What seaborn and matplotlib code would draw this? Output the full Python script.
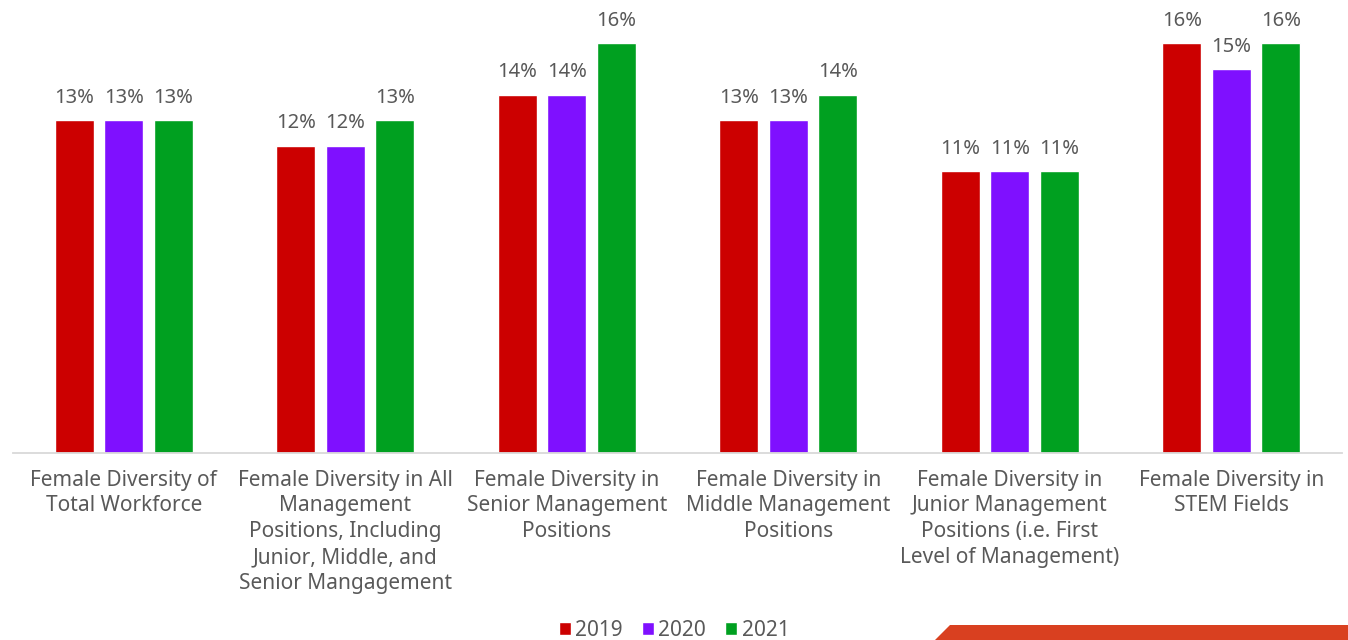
import matplotlib
matplotlib.use("Agg")
import matplotlib.pyplot as plt
import seaborn as sns
import pandas as pd
from matplotlib.patches import Polygon, Patch

categories = [
    "Female Diversity of\nTotal Workforce",
    "Female Diversity in All\nManagement\nPositions, Including\nJunior, Middle, and\nSenior Mangagement",
    "Female Diversity in\nSenior Management\nPositions",
    "Female Diversity in\nMiddle Management\nPositions",
    "Female Diversity in\nJunior Management\nPositions (i.e. First\nLevel of Management)",
    "Female Diversity in\nSTEM Fields",
]
years = ["2019", "2020", "2021"]
values_2019 = [13, 12, 14, 13, 11, 16]
values_2020 = [13, 12, 14, 13, 11, 15]
values_2021 = [13, 13, 16, 14, 11, 16]
colors = ["#CC0000", "#7F10FF", "#00A020"]

rows = []
for yr, vals in zip(years, [values_2019, values_2020, values_2021]):
    for c, v in zip(categories, vals):
        rows.append({"category": c, "year": yr, "value": v})
df = pd.DataFrame(rows)

sns.set_style("white")
plt.rcParams["font.family"] = ["Noto Sans", "DejaVu Sans"]

fig = plt.figure(figsize=(13.48, 6.4), dpi=100)
ax = fig.add_axes([13 / 1348, 1 - 453 / 640, (1342 - 13) / 1348, 453 / 640])
sns.barplot(data=df, x="category", y="value", hue="year", palette=colors,
            width=0.67, gap=0.21, ax=ax, legend=False, saturation=1)
ax.set_xlim(-0.5, 5.5)
ax.set_ylim(0, 453 / 25.6)
for cont in ax.containers:
    ax.bar_label(cont, labels=[f"{v:.0f}%" for v in cont.datavalues],
                 padding=9, fontsize=14.5, color="#595959")
for s in ["top", "right", "left"]:
    ax.spines[s].set_visible(False)
ax.spines["bottom"].set_color("#D9D9D9")
ax.spines["bottom"].set_linewidth(1.3)
ax.set_yticks([])
ax.set_xlabel("")
ax.set_ylabel("")
ax.tick_params(axis="x", length=0, pad=12, labelsize=15, labelcolor="#595959")
for lbl in ax.get_xticklabels():
    lbl.set_linespacing(1.3)

handles = [Patch(facecolor=c, label=y) for c, y in zip(colors, years)]
fig.legend(handles=handles, loc="center", bbox_to_anchor=(0.5, 1 - 630 / 640),
           ncol=3, frameon=False, fontsize=15, handlelength=0.6, handleheight=0.6,
           handletextpad=0.2, columnspacing=0.9, labelcolor="#595959")

poly = Polygon([[935 / 1348, 0], [950 / 1348, 15 / 640], [1, 15 / 640], [1, 0]],
               closed=True, transform=fig.transFigure, facecolor="#D94020",
               edgecolor="none")
fig.patches.append(poly)

fig.savefig("out.png", dpi=100)
